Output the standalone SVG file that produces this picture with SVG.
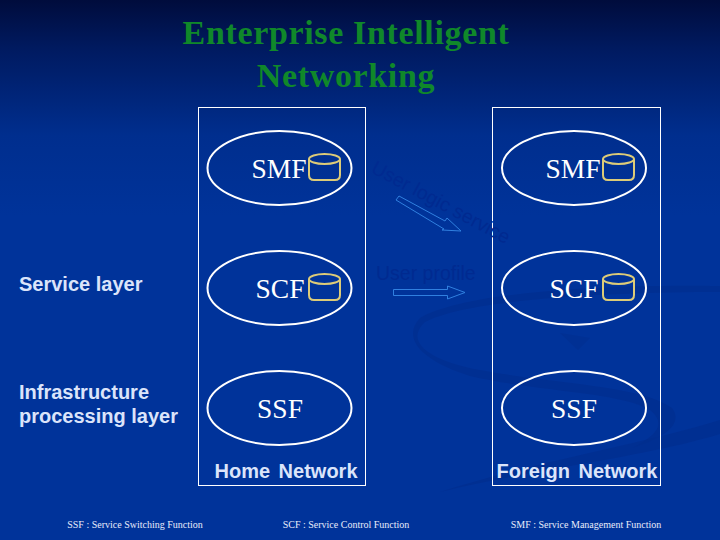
<svg xmlns="http://www.w3.org/2000/svg" width="720" height="540" viewBox="0 0 720 540">
<defs>
<linearGradient id="bg" x1="0" y1="0" x2="0" y2="1"><stop offset="0" stop-color="#000c3c"/><stop offset="0.09" stop-color="#001a60"/><stop offset="0.25" stop-color="#002e8e"/><stop offset="0.4" stop-color="#00339a"/><stop offset="1" stop-color="#00339a"/></linearGradient>
<g id="drum"><path class="can" d="M-15 -10 V6 Q-15 11 -10 11 H11 Q16 11 16 6 V-10"/><ellipse class="can" cx="0.500" cy="-10" rx="15.500" ry="5"/></g>
</defs>
<style>
.frame{fill:none;stroke:#fff;stroke-width:1}
.oval{fill:none;stroke:#fff;stroke-width:2}
.can{fill:none;stroke:#dccb78;stroke-width:2}
.fn{font-family:"Liberation Serif",serif;font-size:27.5px;fill:#fff;text-anchor:middle}
.lbl{font-family:"Liberation Sans",sans-serif;font-size:20px;font-weight:bold;fill:#dbe4fa}
.net{font-family:"Liberation Sans",sans-serif;font-size:20px;font-weight:bold;fill:#dbe4fa;text-anchor:middle;word-spacing:3px}
.foot{font-family:"Liberation Serif",serif;font-size:10px;fill:#e8ecfa;text-anchor:middle}
.faint{font-family:"Liberation Sans",sans-serif;font-size:19.500px;fill:#002a90}
.arrow{fill:none;stroke:#3080e0;stroke-width:1}
</style>
<rect width="720" height="540" fill="url(#bg)"/>
<g id="background" fill="#002d8e">
<path d="M720 292 C620 292 470 298 425 322 C405 340 425 360 480 370 C560 385 640 385 672 408 C685 425 660 440 632 448 C655 436 668 425 650 410 C620 392 540 392 470 376 C425 362 400 340 420 318 C470 290 620 284 720 286 Z" opacity="0.7"/>
<path d="M720 420 C640 445 540 460 440 492 C540 468 640 458 720 434 Z" opacity="0.7"/>
<path d="M560 333 L590 338 L578 350 Z" opacity="0.5"/>
</g>
<g id="title" font-family="Liberation Serif,serif" font-size="34" font-weight="bold" letter-spacing="0.65" fill="#10882a" text-anchor="middle">
<text x="346" y="44">Enterprise Intelligent</text>
<text x="346" y="87">Networking</text>
</g>
<g id="home-network"><rect class="frame" x="198.500" y="107.500" width="167" height="378"/><text class="net" x="286" y="478">Home Network</text></g>
<g id="foreign-network"><rect class="frame" x="492.500" y="107.500" width="168" height="378"/><text class="net" x="577" y="478">Foreign Network</text></g>
<g id="smf-home"><ellipse class="oval" cx="279.500" cy="168" rx="72" ry="37"/><text class="fn" x="279" y="178">SMF</text><use href="#drum" x="324" y="169"/></g>
<g id="scf-home"><ellipse class="oval" cx="279.500" cy="288" rx="72" ry="37"/><text class="fn" x="280" y="298">SCF</text><use href="#drum" x="324" y="289"/></g>
<g id="ssf-home"><ellipse class="oval" cx="279.500" cy="408" rx="72" ry="37"/><text class="fn" x="280" y="418">SSF</text></g>
<g id="smf-foreign"><ellipse class="oval" cx="574" cy="168" rx="72" ry="37"/><text class="fn" x="573" y="178">SMF</text><use href="#drum" x="618" y="169"/></g>
<g id="scf-foreign"><ellipse class="oval" cx="574" cy="288" rx="72" ry="37"/><text class="fn" x="574" y="298">SCF</text><use href="#drum" x="618" y="289"/></g>
<g id="ssf-foreign"><ellipse class="oval" cx="574" cy="408" rx="72" ry="37"/><text class="fn" x="574" y="418">SSF</text></g>
<g id="connectors">
<path class="arrow" d="M399 196 L396 200 L444 229 L442 230 L461 231 L447 218 L445 221 Z"/>
<path class="arrow" d="M393.500 289.500 H447.500 V286 L465 292.500 L447.500 299 V295.500 H393.500 Z"/>
</g>
<g id="labels">
<text class="lbl" x="19" y="291">Service layer</text>
<text class="lbl" x="19" y="399">Infrastructure</text>
<text class="lbl" x="19" y="423">processing layer</text>
<text class="faint" x="370" y="172" transform="rotate(28 370 172)">User logic service</text>
<text class="faint" x="376" y="280">User profile</text>
<text class="foot" x="135" y="528">SSF : Service Switching Function</text>
<text class="foot" x="346" y="528">SCF : Service Control Function</text>
<text class="foot" x="586" y="528">SMF : Service Management Function</text>
</g>
</svg>
